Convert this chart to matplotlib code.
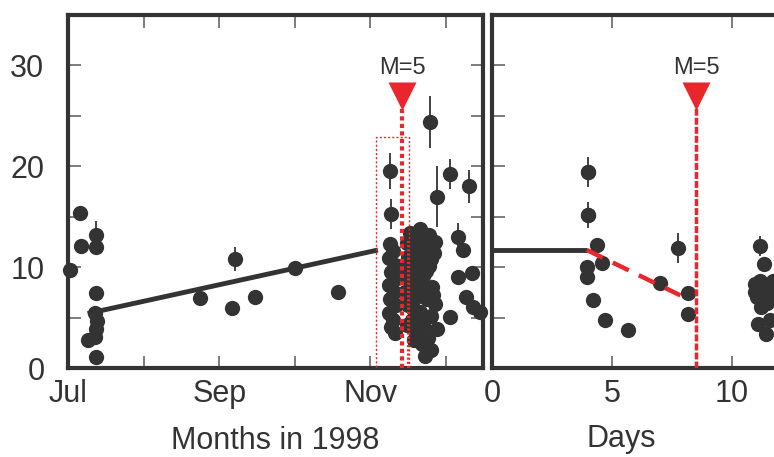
import matplotlib
matplotlib.use('Agg')
import matplotlib.pyplot as plt

plt.rcParams['font.family'] = ['Liberation Sans', 'DejaVu Sans']

ink = '#333333'
red = '#e8262c'

# ---- left panel, x in months of 1998 (7 = 1 Jul) ----
dots_x = [7.03, 7.16, 7.17, 7.37, 7.37, 7.36, 7.27, 7.38, 7.37, 7.37, 7.36,
          8.75, 9.17, 9.47, 10.00, 10.57,
          # left column of the November swarm
          11.26, 11.30, 11.24, 11.33, 11.27, 11.35, 11.25, 11.31, 11.26, 11.34,
          11.25, 11.30, 11.27, 11.33,
          # right column of the November swarm
          11.52, 11.65, 11.78, 11.85, 11.48, 11.60, 11.72, 11.50, 11.66, 11.80,
          11.47, 11.58, 11.74, 11.52, 11.68, 11.82, 11.46, 11.60, 11.75, 11.86,
          11.50, 11.66, 11.80, 11.55, 11.70, 11.62, 11.76, 11.68, 11.80, 11.72,
          11.58, 11.88, 11.56, 11.70, 11.84, 11.63, 11.77, 11.53, 11.69, 11.64,
          11.83, 11.57, 11.74, 11.49, 11.61,
          # after the swarm
          12.22, 12.16, 12.34, 12.05, 12.27, 12.36, 12.45]
dots_y = [9.7, 15.4, 12.1, 12.0, 7.4, 3.1, 2.8, 4.7, 1.1, 3.9, 5.5,
          6.9, 5.9, 7.0, 9.9, 7.5,
          12.3, 11.6, 10.9, 10.2, 9.5, 8.9, 8.2, 7.5, 6.8, 6.2,
          5.5, 4.8, 4.1, 3.5,
          13.4, 13.8, 13.2, 12.5, 12.4, 12.0, 11.6, 11.0, 10.6, 10.8,
          9.8, 9.3, 9.6, 8.6, 8.2, 8.0, 7.5, 7.0, 6.8, 6.3,
          6.2, 5.6, 5.2, 4.8, 4.2, 3.5, 3.0, 2.4, 1.8, 1.2,
          2.8, 3.9, 12.9, 12.7, 11.4, 11.2, 10.1, 10.3, 9.1, 7.7,
          7.2, 5.9, 5.0, 4.3, 4.0,
          11.7, 9.0, 9.4, 5.1, 7.0, 6.0, 5.6]

# points drawn with an error bar
err_x = [7.37, 9.21, 11.26, 11.27, 11.79, 12.05, 12.30, 11.88, 12.16]
err_y = [13.2, 10.8, 19.5, 15.3, 24.4, 19.2, 18.0, 17.0, 13.0]
err_e = [1.4, 1.2, 1.8, 1.5, 2.6, 1.5, 1.6, 3.0, 1.4]

trend_x = [7.26, 11.10]
trend_y = [5.4, 11.7]

month_ticks = [7, 8, 9, 10, 11, 12]
month_labels = ['Jul', '', 'Sep', '', 'Nov', '']

m5_month = 11.42

# ---- right panel, x in days ----
day_x = [4.0, 4.0, 4.37, 3.95, 3.95, 4.6, 4.2, 4.7, 5.67, 7.0, 8.17, 8.17,
         11.35, 10.96, 10.96, 11.2, 11.3, 11.2, 11.1, 11.4, 11.55, 11.6, 11.7,
         11.05, 11.25, 11.45, 11.65, 11.15]
day_y = [19.4, 15.2, 12.2, 10.0, 9.0, 10.4, 6.7, 4.75, 3.8, 8.4, 7.4, 5.4,
         10.3, 8.3, 7.5, 8.0, 6.7, 6.0, 4.4, 3.4, 7.6, 4.8, 8.6,
         7.0, 7.3, 6.4, 6.9, 8.6]
day_err_x = [4.0, 4.0, 7.75, 11.17]
day_err_y = [19.4, 15.2, 11.9, 12.1]
day_err_e = [1.5, 1.3, 1.5, 1.0]

flat_x = [0, 3.95]
flat_y = [11.7, 11.7]
drop_x = [3.95, 7.85]
drop_y = [11.7, 7.2]
m5_day = 8.5

fig = plt.figure(figsize=(7.74, 4.57), dpi=100)
ax1 = fig.add_axes([68 / 774, 89 / 457, 415 / 774, 353 / 457])
ax2 = fig.add_axes([492 / 774, 89 / 457, 330 / 774, 353 / 457])


def style(ax):
    for s in ax.spines.values():
        s.set_linewidth(3)
        s.set_color(ink)
    ax.set_ylim(0, 35)
    ax.set_yticks([0, 5, 10, 15, 20, 25, 30])
    ax.tick_params(direction='in', length=9, width=1.2, color='#666666',
                   top=True, right=True, labelsize=22, labelcolor=ink)
    ax.tick_params(axis='x', pad=8)
    ax.tick_params(axis='y', pad=17)


style(ax1)
style(ax2)

# left panel
ax1.plot(trend_x, trend_y, color=ink, lw=3.5, solid_capstyle='butt', zorder=3)
ax1.vlines(err_x, [y - e for y, e in zip(err_y, err_e)],
           [y + e for y, e in zip(err_y, err_e)], color=ink, lw=1.3, zorder=3)
ax1.plot(dots_x, dots_y, 'o', ms=11, color=ink, mec='none', zorder=4, clip_on=False)
ax1.plot(err_x, err_y, 'o', ms=11, color=ink, mec='none', zorder=4)

# red dotted box and marker line
ax1.add_patch(plt.Rectangle((11.07, 0), 0.44, 22.9, fill=False, ec=red,
                            lw=1.0, ls=(0, (1.5, 1.5)), zorder=5))
ax1.plot([m5_month, m5_month], [0, 26.5], color=red, lw=3,
         ls=(0, (1, 0.8)), zorder=5)
ax1.plot([11.50, 11.50], [0, 12.8], color=red, lw=1.5,
         ls=(0, (1, 1)), zorder=5)
ax1.plot(m5_month, 27.0, 'v', ms=20, color=red, mec='none', zorder=6)
ax1.text(m5_month, 29.7, 'M=5', ha='center', va='center', fontsize=17, color=ink)

ax1.set_xlim(7, 12.49)
ax1.set_xticks(month_ticks)
ax1.set_xticklabels(month_labels)
ax1.set_yticklabels(['0', '', '10', '', '20', '', '30'])
ax1.set_xlabel('Months in 1998', fontsize=22, color=ink, labelpad=12)

# right panel
ax2.plot(flat_x, flat_y, color=ink, lw=3.5, solid_capstyle='butt', zorder=3)
ax2.vlines(day_err_x, [y - e for y, e in zip(day_err_y, day_err_e)],
           [y + e for y, e in zip(day_err_y, day_err_e)], color=ink, lw=1.3, zorder=3)
ax2.plot(day_x, day_y, 'o', ms=11, color=ink, mec='none', zorder=4)
ax2.plot(day_err_x, day_err_y, 'o', ms=11, color=ink, mec='none', zorder=4)
ax2.plot(drop_x, drop_y, color=red, lw=3.2, ls=(0, (4, 2.5)), zorder=5)
ax2.plot([m5_day, m5_day], [0, 26.5], color=red, lw=2.5,
         ls=(0, (2, 0.6)), zorder=5)
ax2.plot(m5_day, 27.0, 'v', ms=20, color=red, mec='none', zorder=6)
ax2.text(m5_day, 29.7, 'M=5', ha='center', va='center', fontsize=17, color=ink)

ax2.set_xlim(0, 330 / 24)
ax2.set_xticks([0, 5, 10])
ax2.set_yticklabels([])
ax2.set_xlabel('Days', fontsize=22, color=ink, labelpad=12)
ax2.xaxis.set_label_coords((621 - 492) / 330, -0.16)

fig.savefig('out.png', dpi=100)
